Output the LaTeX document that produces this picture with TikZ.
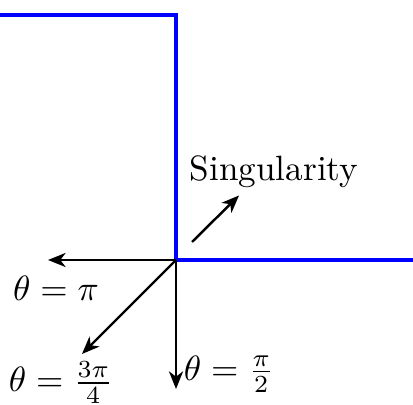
\documentclass[tikz,border=0pt]{standalone}
\usepackage{amsmath,amssymb}
\usetikzlibrary{arrows.meta,positioning}
\tikzset{
  wallline/.style={draw=blue, line width=1.4pt},
  rayarr/.style={-{Stealth[length=5pt,width=4pt,inset=1.5pt]}, line width=0.7pt, color=black},
  lbl/.style={inner sep=1pt},
}

\begin{document}
\begin{tikzpicture}
  \useasboundingbox (-1.76,-1.45) rectangle (2.37,2.60);
  \coordinate (corner) at (0,0);
  \coordinate (wl) at (-1.80,2.45);
  \coordinate (wt) at (0,2.45);
  \coordinate (wr) at (2.40,0);
  \draw[wallline] (wl) -- (wt) -- (corner) -- (wr);
  % rays from the corner
  \coordinate (pi) at (-1.28,0);
  \coordinate (tq) at (-0.94,-0.94);
  \coordinate (half) at (0,-1.29);
  \draw[rayarr] (corner) -- (pi);
  \draw[rayarr] (corner) -- (tq);
  \draw[rayarr] (corner) -- (half);
  \node[lbl] (lpi) at (-1.20,-0.28) {$\theta=\pi$};
  \node[lbl] (ltq) at (-1.15,-1.23) {$\theta=\frac{3\pi}{4}$};
  \node[lbl] (lhalf) at (0.53,-1.14) {$\theta=\frac{\pi}{2}$};
  % singularity
  \coordinate (s0) at (0.16,0.18);
  \coordinate (s1) at (0.63,0.645);
  \draw[rayarr] (s0) -- (s1);
  \node[lbl] (sing) at (0.98,0.88) {Singularity};
\end{tikzpicture}
\end{document}
